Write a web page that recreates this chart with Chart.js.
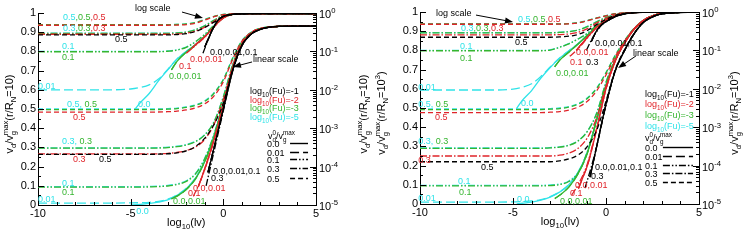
<!DOCTYPE html>
<html>
<head>
<meta charset="utf-8">
<script src="https://cdn.jsdelivr.net/npm/chart.js@4.4.1/dist/chart.umd.min.js"></script>
<style>
  html, body { margin: 0; padding: 0; background: #fff; }
  #wrap { position: relative; width: 743px; height: 250px; overflow: hidden; }
  canvas { position: absolute; top: 0; }
  #chartL { left: 0; }
  #chartR { left: 372px; }
</style>
</head>
<body>
<div id="wrap">
  <canvas id="chartL" width="372" height="250"></canvas>
  <canvas id="chartR" width="371" height="250"></canvas>
</div>
<script>
// ---- left panel, r/R_N = 10 : curves read against the linear (left) axis
const lLinC0  = [[-5,0],[-4.5,0.003],[-4,0.008],[-3.5,0.015],[-3,0.027],[-2.5,0.05],[-2,0.085],[-1.5,0.14],[-1,0.23],[-0.5,0.36],[0,0.53],[0.5,0.72],[1,0.84],[1.5,0.895],[2,0.918],[3,0.93],[5,0.932]];
const lLinC01 = [[-10,0.01],[-6,0.01],[-5,0.011],[-4.5,0.012],[-4,0.014],[-3.5,0.019],[-3,0.03],[-2.5,0.052],[-2,0.087],[-1.5,0.142],[-1,0.232],[-0.5,0.362],[0,0.532],[0.5,0.72],[1,0.84],[1.5,0.895],[2,0.918],[3,0.93],[5,0.932]];
const lLinC1  = [[-10,0.096],[-5,0.096],[-4,0.097],[-3,0.102],[-2.5,0.11],[-2,0.126],[-1.5,0.165],[-1,0.245],[-0.5,0.37],[0,0.537],[0.5,0.722],[1,0.841],[1.5,0.895],[2,0.918],[3,0.93],[5,0.932]];
const lLinC3  = [[-10,0.298],[-4,0.298],[-3,0.301],[-2.5,0.306],[-2,0.315],[-1.5,0.332],[-1,0.367],[-0.5,0.435],[0,0.565],[0.5,0.73],[1,0.845],[1.5,0.897],[2,0.919],[3,0.93],[5,0.932]];
const lLinC5  = [[-10,0.5],[-4,0.5],[-3,0.502],[-2.5,0.505],[-2,0.511],[-1.5,0.522],[-1,0.543],[-0.5,0.585],[0,0.655],[0.5,0.765],[1,0.855],[1.5,0.9],[2,0.92],[3,0.93],[5,0.932]];
const lLinG0  = [[-2.8,0.032],[-2.5,0.046],[-2,0.081],[-1.5,0.136],[-1,0.226],[-0.5,0.357],[0,0.528],[0.5,0.718],[1,0.839],[1.5,0.894],[2,0.918],[3,0.93],[5,0.932]];
const lLinG1  = [[-10,0.093],[-5,0.093],[-4,0.094],[-3,0.099],[-2.5,0.107],[-2,0.123],[-1.5,0.162],[-1,0.242],[-0.5,0.368],[0,0.535],[0.5,0.72],[1,0.84],[1.5,0.895],[2,0.918],[3,0.93],[5,0.932]];
const lLinG3  = [[-10,0.296],[-4,0.296],[-3,0.299],[-2.5,0.304],[-2,0.313],[-1.5,0.33],[-1,0.365],[-0.5,0.433],[0,0.563],[0.5,0.728],[1,0.844],[1.5,0.896],[2,0.919],[3,0.93],[5,0.932]];
const lLinG5  = [[-10,0.497],[-4,0.497],[-3,0.499],[-2.5,0.502],[-2,0.508],[-1.5,0.519],[-1,0.54],[-0.5,0.582],[0,0.652],[0.5,0.763],[1,0.854],[1.5,0.9],[2,0.92],[3,0.93],[5,0.932]];
const lLinR0  = [[-1.35,0.095],[-1,0.19],[-0.5,0.34],[0,0.52],[0.5,0.712],[1,0.836],[1.5,0.893],[2,0.917],[3,0.93],[5,0.932]];
const lLinR1  = [[-1.62,0.045],[-1.3,0.11],[-1,0.185],[-0.5,0.337],[0,0.518],[0.5,0.71],[1,0.835],[1.5,0.893],[2,0.917],[3,0.93],[5,0.932]];
const lLinR3  = [[-10,0.266],[-4,0.266],[-3,0.269],[-2.5,0.274],[-2,0.283],[-1.5,0.302],[-1,0.342],[-0.5,0.42],[0,0.55],[0.5,0.72],[1,0.84],[1.5,0.895],[2,0.918],[3,0.93],[5,0.932]];
const lLinR5  = [[-10,0.484],[-4,0.484],[-3,0.486],[-2.5,0.489],[-2,0.495],[-1.5,0.506],[-1,0.527],[-0.5,0.568],[0,0.642],[0.5,0.758],[1,0.852],[1.5,0.899],[2,0.92],[3,0.93],[5,0.932]];
const lLinK0  = [[-0.83,0.17],[-0.5,0.3],[0,0.5],[0.5,0.7],[1,0.83],[1.5,0.89],[2,0.915],[3,0.93],[5,0.932]];
const lLinK3  = [[-0.93,0.1],[-0.5,0.28],[0,0.49],[0.5,0.695],[1,0.828],[1.5,0.889],[2,0.915],[3,0.93],[5,0.932]];
const lLinK5  = [[-10,0.264],[-4,0.264],[-3,0.267],[-2.5,0.272],[-2,0.282],[-1.5,0.305],[-1,0.348],[-0.5,0.42],[0,0.53],[0.5,0.705],[1,0.832],[1.5,0.89],[2,0.915],[3,0.93],[5,0.932]];

// ---- left panel : curves read against the log (right) axis
const lLogC0  = [[-4.8,0.003],[-4.5,0.0045],[-4,0.008],[-3.5,0.017],[-3,0.033],[-2.5,0.063],[-2,0.1],[-1.5,0.15],[-1,0.25],[-0.5,0.45],[0,0.75],[0.5,0.92],[1,0.96],[2,0.97],[5,0.97]];
const lLogC01 = [[-10,0.01],[-6,0.01],[-5,0.0105],[-4.5,0.0115],[-4,0.0135],[-3.5,0.019],[-3,0.034],[-2.5,0.064],[-2,0.1],[-1.5,0.151],[-1,0.25],[-0.5,0.45],[0,0.75],[0.5,0.92],[1,0.96],[2,0.97],[5,0.97]];
const lLogC1  = [[-10,0.1],[-3.5,0.1],[-3,0.103],[-2.5,0.11],[-2,0.13],[-1.5,0.18],[-1,0.28],[-0.5,0.48],[0,0.77],[0.5,0.92],[1,0.96],[2,0.97],[5,0.97]];
const lLogC3  = [[-10,0.3],[-3,0.3],[-2.5,0.305],[-2,0.32],[-1.5,0.37],[-1,0.47],[-0.5,0.65],[0,0.86],[0.5,0.94],[1,0.96],[2,0.97],[5,0.97]];
const lLogC5  = [[-10,0.5],[-3,0.5],[-2.5,0.505],[-2,0.52],[-1.5,0.57],[-1,0.68],[-0.5,0.82],[0,0.92],[0.5,0.95],[1,0.965],[2,0.97],[5,0.97]];
const lLogG0  = [[-2.8,0.033],[-2.5,0.055],[-2,0.095],[-1.5,0.148],[-1,0.248],[-0.5,0.45],[0,0.75],[0.5,0.92],[1,0.96],[2,0.97],[5,0.97]];
const lLogG1  = [[-10,0.098],[-3.5,0.098],[-3,0.101],[-2.5,0.108],[-2,0.128],[-1.5,0.178],[-1,0.278],[-0.5,0.478],[0,0.77],[0.5,0.92],[1,0.96],[2,0.97],[5,0.97]];
const lLogG3  = [[-10,0.296],[-3,0.296],[-2.5,0.301],[-2,0.316],[-1.5,0.366],[-1,0.466],[-0.5,0.648],[0,0.86],[0.5,0.94],[1,0.96],[2,0.97],[5,0.97]];
const lLogG5  = [[-10,0.497],[-3,0.497],[-2.5,0.502],[-2,0.517],[-1.5,0.567],[-1,0.677],[-0.5,0.818],[0,0.92],[0.5,0.95],[1,0.965],[2,0.97],[5,0.97]];
const lLogR0  = [[-1.7,0.12],[-1.5,0.15],[-1,0.24],[-0.5,0.44],[0,0.74],[0.5,0.915],[1,0.958],[2,0.97],[5,0.97]];
const lLogR1  = [[-2,0.09],[-1.5,0.142],[-1,0.235],[-0.5,0.435],[0,0.74],[0.5,0.915],[1,0.958],[2,0.97],[5,0.97]];
const lLogR3  = [[-10,0.28],[-3,0.28],[-2.5,0.285],[-2,0.298],[-1.5,0.34],[-1,0.43],[-0.5,0.61],[0,0.84],[0.5,0.935],[1,0.96],[2,0.97],[5,0.97]];
const lLogR5  = [[-10,0.48],[-3,0.48],[-2.5,0.485],[-2,0.498],[-1.5,0.545],[-1,0.65],[-0.5,0.8],[0,0.91],[0.5,0.95],[1,0.965],[2,0.97],[5,0.97]];
const lLogK0  = [[-1,0.13],[-0.75,0.25],[-0.5,0.45],[-0.25,0.68],[0,0.82],[0.5,0.92],[1,0.955],[2,0.97],[5,0.97]];
const lLogK3  = [[-1.1,0.09],[-0.75,0.24],[-0.5,0.44],[-0.25,0.67],[0,0.815],[0.5,0.92],[1,0.955],[2,0.97],[5,0.97]];
const lLogK5  = [[-10,0.27],[-3,0.27],[-2.5,0.275],[-2,0.29],[-1.5,0.33],[-1,0.42],[-0.5,0.58],[0,0.8],[0.5,0.92],[1,0.955],[2,0.97],[5,0.97]];

// ---- right panel, r/R_N = 10^3 : linear axis
const rLinC0  = [[-4.8,0],[-4.5,0.004],[-4,0.01],[-3.5,0.02],[-3,0.036],[-2.5,0.062],[-2,0.1],[-1.5,0.165],[-1,0.27],[-0.5,0.44],[0,0.62],[0.5,0.75],[1,0.84],[1.5,0.91],[2,0.955],[2.5,0.98],[3,0.993],[5,1]];
const rLinC01 = [[-10,0.01],[-6,0.01],[-5,0.011],[-4.5,0.013],[-4,0.016],[-3.5,0.023],[-3,0.038],[-2.5,0.063],[-2,0.101],[-1.5,0.166],[-1,0.271],[-0.5,0.44],[0,0.62],[0.5,0.75],[1,0.84],[1.5,0.91],[2,0.955],[2.5,0.98],[3,0.993],[5,1]];
const rLinC1  = [[-10,0.097],[-4,0.097],[-3,0.099],[-2.5,0.104],[-2,0.12],[-1.5,0.165],[-1,0.275],[-0.5,0.445],[0,0.622],[0.5,0.752],[1,0.841],[1.5,0.91],[2,0.955],[2.5,0.98],[3,0.993],[5,1]];
const rLinC3  = [[-10,0.292],[-3.5,0.292],[-3,0.294],[-2.5,0.298],[-2,0.307],[-1.5,0.33],[-1,0.38],[-0.5,0.475],[0,0.635],[0.5,0.757],[1,0.843],[1.5,0.911],[2,0.955],[2.5,0.98],[3,0.993],[5,1]];
const rLinC5  = [[-10,0.495],[-3.5,0.495],[-3,0.497],[-2.5,0.5],[-2,0.507],[-1.5,0.523],[-1,0.553],[-0.5,0.605],[0,0.685],[0.5,0.775],[1,0.852],[1.5,0.914],[2,0.956],[2.5,0.98],[3,0.993],[5,1]];
const rLinG0  = [[-2.75,0.028],[-2.5,0.045],[-2,0.088],[-1.5,0.158],[-1,0.266],[-0.5,0.438],[0,0.618],[0.5,0.749],[1,0.84],[1.5,0.91],[2,0.955],[2.5,0.98],[3,0.993],[5,1]];
const rLinG1  = [[-10,0.094],[-4,0.094],[-3,0.096],[-2.5,0.101],[-2,0.117],[-1.5,0.162],[-1,0.272],[-0.5,0.443],[0,0.621],[0.5,0.751],[1,0.841],[1.5,0.91],[2,0.955],[2.5,0.98],[3,0.993],[5,1]];
const rLinG3  = [[-10,0.29],[-3.5,0.29],[-3,0.292],[-2.5,0.296],[-2,0.305],[-1.5,0.328],[-1,0.378],[-0.5,0.473],[0,0.633],[0.5,0.756],[1,0.843],[1.5,0.911],[2,0.955],[2.5,0.98],[3,0.993],[5,1]];
const rLinG5  = [[-10,0.492],[-3.5,0.492],[-3,0.494],[-2.5,0.497],[-2,0.504],[-1.5,0.52],[-1,0.55],[-0.5,0.602],[0,0.683],[0.5,0.774],[1,0.851],[1.5,0.913],[2,0.956],[2.5,0.98],[3,0.993],[5,1]];
const rLinR0  = [[-1.48,0.08],[-1.2,0.15],[-1,0.2],[-0.5,0.39],[0,0.6],[0.5,0.745],[1,0.838],[1.5,0.909],[2,0.955],[2.5,0.98],[3,0.993],[5,1]];
const rLinR1  = [[-1.84,0.047],[-1.5,0.1],[-1,0.21],[-0.5,0.395],[0,0.6],[0.5,0.745],[1,0.838],[1.5,0.909],[2,0.955],[2.5,0.98],[3,0.993],[5,1]];
const rLinR3  = [[-10,0.25],[-3,0.25],[-2.5,0.254],[-2,0.265],[-1.5,0.29],[-1,0.345],[-0.5,0.45],[0,0.615],[0.5,0.75],[1,0.84],[1.5,0.91],[2,0.955],[2.5,0.98],[3,0.993],[5,1]];
const rLinR5  = [[-10,0.476],[-3.5,0.476],[-3,0.478],[-2.5,0.481],[-2,0.489],[-1.5,0.505],[-1,0.535],[-0.5,0.59],[0,0.672],[0.5,0.768],[1,0.849],[1.5,0.912],[2,0.956],[2.5,0.98],[3,0.993],[5,1]];
const rLinK0  = [[-0.86,0.14],[-0.5,0.3],[0,0.52],[0.5,0.695],[1,0.8],[1.5,0.885],[2,0.945],[2.5,0.975],[3,0.99],[5,1]];
const rLinK3  = [[-1.13,0.083],[-0.8,0.19],[-0.5,0.3],[0,0.515],[0.5,0.693],[1,0.8],[1.5,0.885],[2,0.945],[2.5,0.975],[3,0.99],[5,1]];
const rLinK5  = [[-10,0.22],[-3,0.22],[-2.5,0.225],[-2,0.235],[-1.5,0.255],[-1,0.3],[-0.5,0.385],[0,0.535],[0.5,0.7],[1,0.805],[1.5,0.887],[2,0.946],[2.5,0.975],[3,0.99],[5,1]];

// ---- right panel : log axis
const rLogC0  = [[-4.82,0.003],[-4.5,0.005],[-4,0.009],[-3.5,0.019],[-3,0.036],[-2.5,0.062],[-2,0.097],[-1.5,0.15],[-1,0.25],[-0.5,0.42],[0,0.62],[0.5,0.8],[1,0.92],[1.5,0.97],[2,0.99],[3,1],[5,1]];
const rLogC01 = [[-10,0.0093],[-6,0.0093],[-5,0.0098],[-4.5,0.011],[-4,0.0135],[-3.5,0.021],[-3,0.037],[-2.5,0.063],[-2,0.098],[-1.5,0.151],[-1,0.25],[-0.5,0.42],[0,0.62],[0.5,0.8],[1,0.92],[1.5,0.97],[2,0.99],[3,1],[5,1]];
const rLogC1  = [[-10,0.1],[-3.5,0.1],[-3,0.104],[-2.5,0.122],[-2,0.15],[-1.5,0.2],[-1,0.28],[-0.5,0.45],[0,0.64],[0.5,0.81],[1,0.92],[1.5,0.97],[2,0.99],[3,1],[5,1]];
const rLogC3  = [[-10,0.29],[-3,0.29],[-2.5,0.297],[-2,0.31],[-1.5,0.34],[-1,0.42],[-0.5,0.56],[0,0.72],[0.5,0.85],[1,0.93],[1.5,0.97],[2,0.99],[3,1],[5,1]];
const rLogC5  = [[-10,0.49],[-3,0.49],[-2.5,0.493],[-2,0.5],[-1.5,0.53],[-1,0.6],[-0.5,0.7],[0,0.8],[0.5,0.9],[1,0.95],[1.5,0.975],[2,0.99],[3,1],[5,1]];
const rLogG0  = [[-2.76,0.037],[-2.5,0.055],[-2,0.09],[-1.5,0.147],[-1,0.248],[-0.5,0.42],[0,0.62],[0.5,0.8],[1,0.92],[1.5,0.97],[2,0.99],[3,1],[5,1]];
const rLogG1  = [[-10,0.098],[-3.5,0.098],[-3,0.102],[-2.5,0.12],[-2,0.148],[-1.5,0.198],[-1,0.278],[-0.5,0.448],[0,0.64],[0.5,0.81],[1,0.92],[1.5,0.97],[2,0.99],[3,1],[5,1]];
const rLogG3  = [[-10,0.287],[-3,0.287],[-2.5,0.294],[-2,0.307],[-1.5,0.337],[-1,0.417],[-0.5,0.557],[0,0.718],[0.5,0.849],[1,0.93],[1.5,0.97],[2,0.99],[3,1],[5,1]];
const rLogG5  = [[-10,0.487],[-3,0.487],[-2.5,0.49],[-2,0.497],[-1.5,0.527],[-1,0.597],[-0.5,0.698],[0,0.799],[0.5,0.9],[1,0.95],[1.5,0.975],[2,0.99],[3,1],[5,1]];
const rLogR0  = [[-1.6,0.1],[-1.5,0.115],[-1,0.22],[-0.5,0.4],[0,0.61],[0.5,0.795],[1,0.918],[1.5,0.97],[2,0.99],[3,1],[5,1]];
const rLogR1  = [[-1.95,0.07],[-1.5,0.11],[-1,0.21],[-0.5,0.395],[0,0.608],[0.5,0.795],[1,0.918],[1.5,0.97],[2,0.99],[3,1],[5,1]];
const rLogR3  = [[-10,0.255],[-3,0.255],[-2.5,0.258],[-2,0.268],[-1.5,0.295],[-1,0.37],[-0.5,0.52],[0,0.68],[0.5,0.84],[1,0.93],[1.5,0.97],[2,0.99],[3,1],[5,1]];
const rLogR5  = [[-10,0.48],[-3,0.48],[-2.5,0.483],[-2,0.49],[-1.5,0.52],[-1,0.59],[-0.5,0.69],[0,0.795],[0.5,0.895],[1,0.95],[1.5,0.975],[2,0.99],[3,1],[5,1]];
const rLogK0  = [[-0.79,0.17],[-0.5,0.33],[-0.25,0.46],[0,0.56],[0.5,0.76],[1,0.9],[1.5,0.96],[2,0.985],[3,1],[5,1]];
const rLogK3  = [[-1.06,0.1],[-0.75,0.2],[-0.5,0.31],[-0.25,0.45],[0,0.555],[0.5,0.758],[1,0.9],[1.5,0.96],[2,0.985],[3,1],[5,1]];
const rLogK5  = [[-10,0.22],[-3,0.22],[-2.5,0.224],[-2,0.234],[-1.5,0.26],[-1,0.33],[-0.5,0.47],[0,0.64],[0.5,0.82],[1,0.92],[1.5,0.965],[2,0.985],[3,1],[5,1]];

// initial velocity ratios (line styles) and Fu levels (colours)
const V0 = ['0.5', '0.3', '0.1', '0.01', '0.0'];
const FU = ['-1', '-2', '-3', '-5'];
const LEGEND_V0 = ['0.0', '0.01', '0.1', '0.3', '0.5'];

const COL = { k: '#000000', r: '#e0242a', g: '#35b52f', c: '#2fe3e8' };
const DASH = { '0.0': [], '0.01': [9, 4], '0.1': [7, 2, 1.5, 2, 1.5, 2], '0.3': [7, 2, 1.5, 2], '0.5': [5, 3] };
const FAMILY = '"Liberation Sans", Arial, sans-serif';
const NOTE_SIZE = 9;

const fnt = s => s.toFixed(1) + 'px ' + FAMILY;

function partWidth(ctx, p, size) {
  if (p[1] === 's') {
    ctx.font = fnt(size * 0.7);
    return Math.max(ctx.measureText(p[0][0]).width, ctx.measureText(p[0][1]).width);
  }
  ctx.font = fnt(p[1] ? size * 0.7 : size);
  return ctx.measureText(p[0]).width;
}

// parts: [text, mode, colourKey]; mode 0 normal, 'b' subscript, 'p' superscript, 's' stacked [sub, sup]
function drawRich(ctx, parts, x, y, size, align) {
  const ws = parts.map(p => partWidth(ctx, p, size));
  const total = ws.reduce((a, b) => a + b, 0);
  let cx = align === 'center' ? x - total / 2 : align === 'right' ? x - total : x;
  const base = y + size * 0.36;
  ctx.textAlign = 'left';
  ctx.textBaseline = 'alphabetic';
  parts.forEach((p, i) => {
    ctx.fillStyle = COL[p[2] || 'k'];
    const m = p[1];
    if (m === 's') {
      ctx.font = fnt(size * 0.7);
      ctx.fillText(p[0][0], cx, base + size * 0.28);
      ctx.fillText(p[0][1], cx, base - size * 0.42);
    } else if (m === 'b') {
      ctx.font = fnt(size * 0.7);
      ctx.fillText(p[0], cx, base + size * 0.28);
    } else if (m === 'p') {
      ctx.font = fnt(size * 0.7);
      ctx.fillText(p[0], cx, base - size * 0.42);
    } else {
      ctx.font = fnt(size);
      ctx.fillText(p[0], cx, base);
    }
    cx += ws[i];
  });
}

function arrow(ctx, x0, y0, x1, y1) {
  const a = Math.atan2(y1 - y0, x1 - x0);
  ctx.strokeStyle = '#000';
  ctx.fillStyle = '#000';
  ctx.lineWidth = 1;
  ctx.setLineDash([]);
  ctx.beginPath();
  ctx.moveTo(x0, y0);
  ctx.lineTo(x1 - 5 * Math.cos(a), y1 - 5 * Math.sin(a));
  ctx.stroke();
  ctx.beginPath();
  ctx.moveTo(x1, y1);
  ctx.lineTo(x1 - 8 * Math.cos(a) + 3 * Math.sin(a), y1 - 8 * Math.sin(a) - 3 * Math.cos(a));
  ctx.lineTo(x1 - 8 * Math.cos(a) - 3 * Math.sin(a), y1 - 8 * Math.sin(a) + 3 * Math.cos(a));
  ctx.closePath();
  ctx.fill();
}

const notes3 = (t, x, y) => ({ x, y, t: [[t, 0, 'c'], [',' + t, 0, 'g'], [',' + t, 0, 'r']] });
const note = (t, c, x, y) => ({ x, y, t: [[t, 0, c]] });
const note2 = (t, x, y) => ({ x, y, t: [[t + ',', 0, 'c'], [' ' + t, 0, 'g']] });

const leftNotes = [
  notes3('0.5', -8.65, 0.979), notes3('0.3', -8.65, 0.922),
  note('0.5', 'k', -5.85, 0.865), note('0.1', 'c', -8.7, 0.828), note('0.1', 'g', -8.7, 0.771),
  note('0.0,0.01,0.1', 'k', -0.72, 0.797), note('0.0,0.01', 'r', -1.8, 0.76), note('0.1', 'r', -2.39, 0.724),
  note('0.0,0.01', 'g', -2.93, 0.672), note('0.01', 'c', -10, 0.62),
  note2('0.5', -8.44, 0.526), note('0.0', 'c', -4.6, 0.526), note('0.5', 'r', -8.11, 0.458),
  note2('0.3', -8.7, 0.333), note('0.3', 'r', -8.11, 0.24), note('0.5', 'k', -6.71, 0.24),
  note('0.0,0.01,0.1', 'k', -0.56, 0.177), note('0.3', 'k', -0.67, 0.141),
  note('0.0,0.01', 'r', -1.64, 0.089), note('0.1', 'r', -1.91, 0.063), note('0.0,0.01', 'g', -2.72, 0.021),
  note('0.1', 'c', -8.7, 0.115), note('0.1', 'g', -8.7, 0.068), note('0.01', 'c', -10, 0.031),
  note('0.0', 'c', -4.7, -0.031),
  note('log scale', 'k', -4.77, 1.026), note('linear scale', 'k', 1.6, 0.76)
];
const rightNotes = [
  notes3('0.5', -4.73, 0.964), notes3('0.3', -7.8, 0.917),
  note('0.5', 'k', -4.89, 0.844), note('0.1', 'c', -7.85, 0.823), note('0.1', 'g', -7.85, 0.76),
  note('0.0,0.01,0.1', 'k', -0.59, 0.839), note('0.0,0.01', 'r', -1.61, 0.792), note('0.3', 'k', -1.08, 0.74),
  note('0.1', 'r', -1.94, 0.74), note('0.0,0.01', 'g', -2.69, 0.682), note('0.01', 'c', -10.1, 0.609),
  note2('0.5', -10.1, 0.521), note('0.0', 'c', -4.57, 0.526), note('0.5', 'r', -9.19, 0.453),
  note2('0.3', -10.1, 0.328), note('0.3', 'r', -10.1, 0.229), note('0.5', 'k', -6.72, 0.193),
  note('0.0,0.01,0.1', 'k', -0.59, 0.193), note('0.3', 'k', -0.81, 0.146),
  note('0.0,0.01', 'r', -1.67, 0.099), note('0.1', 'r', -1.94, 0.057), note('0.0,0.01', 'g', -2.47, 0.016),
  note('0.1', 'c', -7.96, 0.12), note('0.1', 'g', -7.9, 0.0625), note('0.01', 'c', -10.1, 0.031),
  note('0.0', 'c', -4.78, 0.026),
  note('log scale', 'k', -9.14, 0.995), note('linear scale', 'k', 1.45, 0.786)
];

function decoPlugin(cfg) {
  return {
    id: 'deco',
    afterDraw(chart) {
      const ctx = chart.ctx, a = chart.chartArea;
      const { x, y, yLog } = chart.scales;
      const X = v => x.getPixelForValue(v), Y = v => y.getPixelForValue(v);
      ctx.save();
      // inward tick marks
      ctx.strokeStyle = '#000';
      ctx.lineWidth = 1;
      ctx.setLineDash([]);
      ctx.beginPath();
      for (let v = -10; v <= 5; v++) {
        const px = Math.round(X(v)) + 0.5, len = v % 5 === 0 ? 6 : 3;
        ctx.moveTo(px, a.bottom); ctx.lineTo(px, a.bottom - len);
      }
      for (let i = 0; i <= 20; i++) {
        const py = Math.round(Y(i * 0.05)) + 0.5, len = i % 2 === 0 ? 6 : 3;
        ctx.moveTo(a.left, py); ctx.lineTo(a.left + len, py);
      }
      for (let e = -5; e <= 0; e++) {
        for (let m = 1; m <= (e === 0 ? 1 : 9); m++) {
          const py = Math.round(yLog.getPixelForValue(m * Math.pow(10, e))) + 0.5, len = m === 1 ? 6 : 3;
          ctx.moveTo(a.right, py); ctx.lineTo(a.right - len, py);
        }
      }
      ctx.stroke();
      // log axis labels
      for (let e = -5; e <= 0; e++) {
        drawRich(ctx, [['10', 0], [String(e), 'p']], a.right + 3, yLog.getPixelForValue(Math.pow(10, e)) + 1, 11, 'left');
      }
      // axis titles
      const yTitle = [['v', 0], ['d', 'b'], ['/v', 0], [['g', 'max'], 's'], ['(r/R', 0], ['N', 'b']].concat(cfg.rn);
      [[9, -1], [chart.width - 9, -1]].forEach(([tx, dir]) => {
        ctx.save();
        ctx.translate(tx, (a.top + a.bottom) / 2 + 5);
        ctx.rotate(dir * Math.PI / 2);
        drawRich(ctx, yTitle, 0, 0, 11, 'center');
        ctx.restore();
      });
      drawRich(ctx, [['log', 0], ['10', 'b'], ['(lv)', 0]], X(cfg.xTitleAt), a.bottom + 17, 11, 'center');
      // annotations
      cfg.notes.forEach(n => drawRich(ctx, n.t, X(n.x), Y(n.y), NOTE_SIZE, 'left'));
      cfg.arrows.forEach(([p, q]) => arrow(ctx, X(p[0]), Y(p[1]), X(q[0]), Y(q[1])));
      // in-plot legend
      const lg = cfg.legend;
      FU.forEach((f, i) => {
        const c = ['k', 'r', 'g', 'c'][i];
        drawRich(ctx, [['log', 0, c], ['10', 'b', c], ['(Fu)=' + f, 0, c]], X(lg.x), Y(lg.fuY[i]), NOTE_SIZE, 'left');
      });
      drawRich(ctx, [['v', 0], [['d', '0'], 's'], ['/v', 0], [['g', 'max'], 's']], X(lg.x + lg.hdx), Y(lg.hY), NOTE_SIZE, 'left');
      LEGEND_V0.forEach((v, i) => {
        const py = Math.round(Y(lg.rowY[i])) + 0.5;
        drawRich(ctx, [[v, 0]], X(lg.x + lg.rdx), py, NOTE_SIZE, 'left');
        ctx.strokeStyle = '#000';
        ctx.lineWidth = 1.4;
        ctx.setLineDash(DASH[v]);
        ctx.beginPath();
        ctx.moveTo(X(lg.line[0]), py);
        ctx.lineTo(X(lg.line[1]), py);
        ctx.stroke();
      });
      ctx.restore();
    }
  };
}

function buildDatasets(curves) {
  const sets = [];
  ['k', 'r', 'g', 'c'].forEach(c => {
    [0, 1].forEach(s => {
      curves[c][s].forEach((arr, i) => {
        sets.push({
          data: arr.map(([px, py]) => ({ x: px, y: py })),
          yAxisID: s ? 'yLog' : 'y',
          borderColor: COL[c],
          borderWidth: 1.3,
          borderDash: DASH[V0[i]],
          pointRadius: 0,
          showLine: true,
          fill: false,
          cubicInterpolationMode: 'monotone'
        });
      });
    });
  });
  return sets;
}

function makeChart(id, curves, geo, cfg) {
  const tickFont = { family: FAMILY, size: 11 };
  return new Chart(document.getElementById(id), {
    type: 'scatter',
    data: { datasets: buildDatasets(curves) },
    options: {
      responsive: false,
      animation: false,
      devicePixelRatio: 1,
      layout: { padding: { top: geo.top, left: 0, right: 0, bottom: 0 } },
      plugins: { legend: { display: false }, tooltip: { enabled: false } },
      scales: {
        x: {
          type: 'linear', min: -10, max: 5,
          afterFit: s => { s.height = geo.bottom; },
          grid: { display: false, drawTicks: false },
          border: { color: '#000', width: 1 },
          ticks: { stepSize: 5, padding: 2, color: '#000', font: tickFont, maxRotation: 0, autoSkip: false }
        },
        y: {
          type: 'linear', position: 'left', min: 0, max: 1,
          afterFit: s => { s.width = geo.left; },
          grid: { display: false, drawTicks: false },
          border: { color: '#000', width: 1 },
          ticks: { stepSize: 0.1, padding: 2, color: '#000', font: tickFont, callback: v => String(+v.toFixed(1)) }
        },
        yLog: {
          type: 'logarithmic', position: 'right', min: 1e-5, max: 1,
          afterFit: s => { s.width = geo.right; },
          grid: { display: false, drawTicks: false },
          border: { color: '#000', width: 1 },
          ticks: { display: false }
        }
      }
    },
    plugins: [decoPlugin(cfg)]
  });
}

makeChart('chartL', {
  k: [[lLinK5, lLinK3, lLinK0, lLinK0, lLinK0], [lLogK5, lLogK3, lLogK0, lLogK0, lLogK0]],
  r: [[lLinR5, lLinR3, lLinR1, lLinR0, lLinR0], [lLogR5, lLogR3, lLogR1, lLogR0, lLogR0]],
  g: [[lLinG5, lLinG3, lLinG1, lLinG0, lLinG0], [lLogG5, lLogG3, lLogG1, lLogG0, lLogG0]],
  c: [[lLinC5, lLinC3, lLinC1, lLinC01, lLinC0], [lLogC5, lLogC3, lLogC1, lLogC01, lLogC0]]
}, { top: 13, left: 38, right: 56, bottom: 45 }, {
  rn: [['=10)', 0]],
  xTitleAt: -2.0,
  notes: leftNotes,
  arrows: [[[-2.23, 1.005], [-1.1, 0.974]], [[1.55, 0.745], [0.52, 0.719]]],
  legend: { x: 1.44, fuY: [0.594, 0.547, 0.505, 0.458], hdx: 0.97, hY: 0.36, rdx: 0.92,
            rowY: [0.323, 0.276, 0.24, 0.193, 0.141], line: [3.6, 4.57] }
});

makeChart('chartR', {
  k: [[rLinK5, rLinK3, rLinK0, rLinK0, rLinK0], [rLogK5, rLogK3, rLogK0, rLogK0, rLogK0]],
  r: [[rLinR5, rLinR3, rLinR1, rLinR0, rLinR0], [rLogR5, rLogR3, rLogR1, rLogR0, rLogR0]],
  g: [[rLinG5, rLinG3, rLinG1, rLinG0, rLinG0], [rLogG5, rLogG3, rLogG1, rLogG0, rLogG0]],
  c: [[rLinC5, rLinC3, rLinC1, rLinC01, rLinC0], [rLogC5, rLogC3, rLogC1, rLogC01, rLogC0]]
}, { top: 12, left: 48, right: 44, bottom: 46 }, {
  rn: [['=10', 0], ['3', 'p'], [')', 0]],
  xTitleAt: -2.47,
  notes: rightNotes,
  arrows: [[[-6.99, 0.984], [-5, 0.948]], [[1.61, 0.771], [0.65, 0.708]]],
  legend: { x: 2.1, fuY: [0.573, 0.521, 0.464, 0.406], hdx: 0, hY: 0.345, rdx: 0,
            rowY: [0.297, 0.25, 0.203, 0.161, 0.115], line: [3.06, 4.68] }
});
</script>
</body>
</html>
